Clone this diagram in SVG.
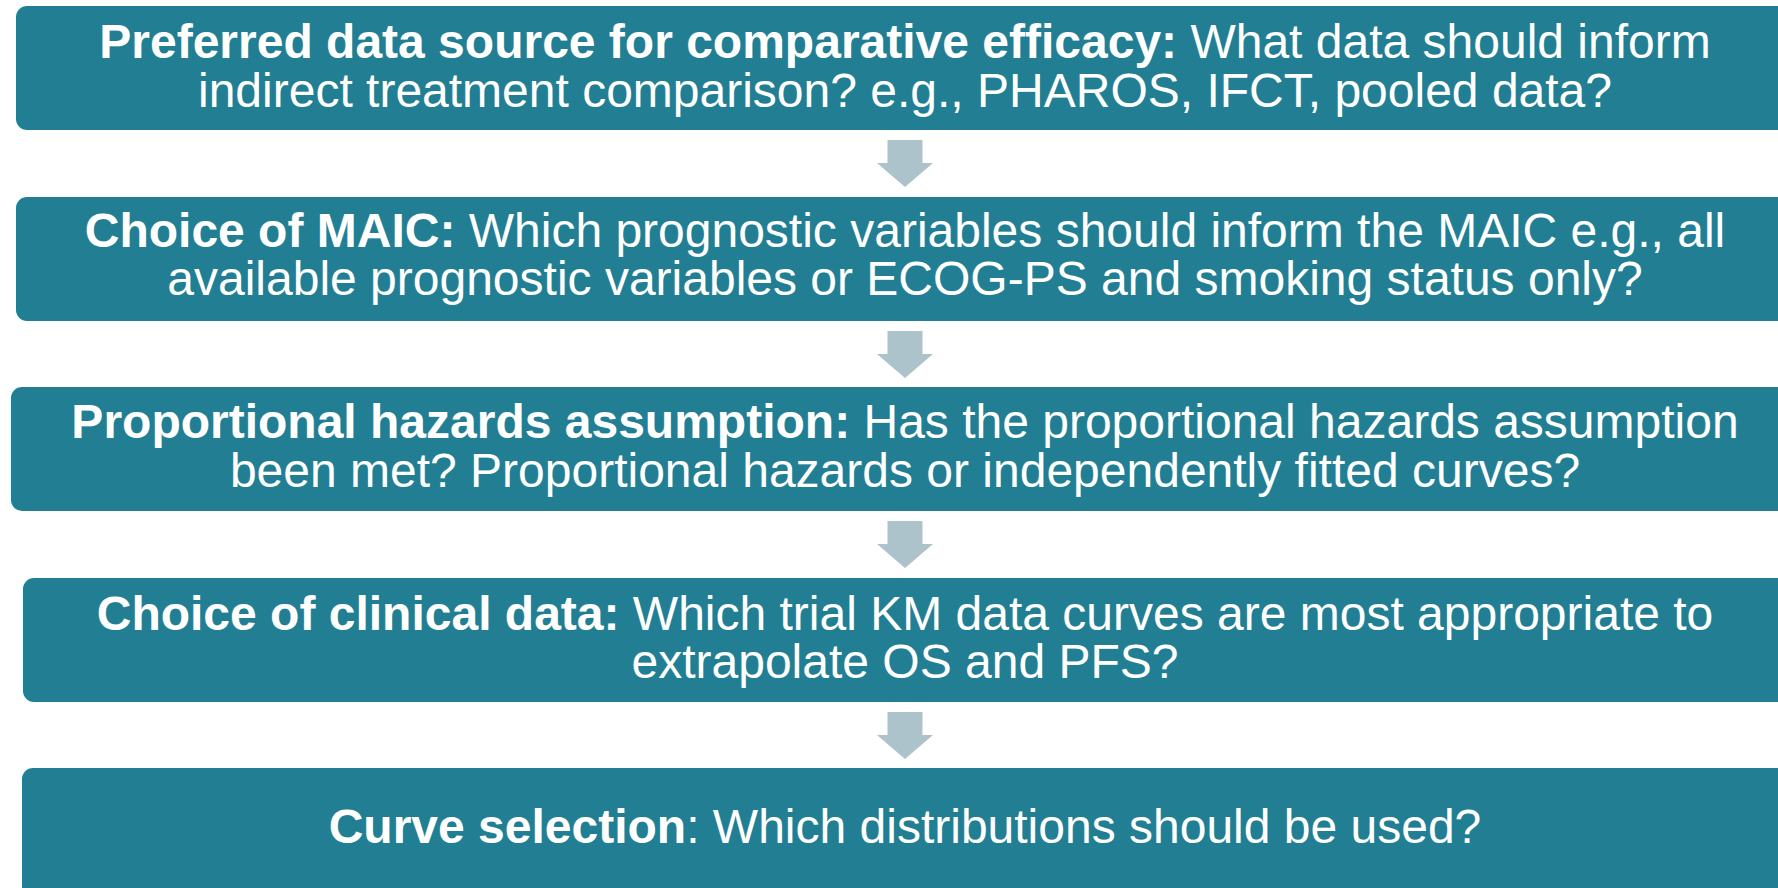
<svg xmlns="http://www.w3.org/2000/svg" width="1778" height="888" viewBox="0 0 1778 888">
  <style>
    .box { fill: #227f93; }
    .txt { font-family: "Liberation Sans", Arial, sans-serif; font-size: 48px; fill: #ffffff; text-anchor: middle; }
    .b { font-weight: bold; }
    .arrow { fill: #adc3cb; }
  </style>
  <defs>
    <!-- block arrow pointing down, centred on x=0, top at y=0 -->
    <path id="down" d="M-17.5 0 H17.5 V23 H28 L0 47 L-28 23 H-17.5 Z"/>
  </defs>
  <rect width="1778" height="888" fill="#ffffff"/>

  <g id="connectors" class="arrow">
    <use href="#down" x="905" y="140"/>
    <use href="#down" x="905" y="331"/>
    <use href="#down" x="905" y="521"/>
    <use href="#down" x="905" y="712"/>
  </g>

  <g id="node-data-source">
    <rect class="box" x="16" y="6" width="1780" height="124" rx="11"/>
    <text class="txt" x="905" y="58"><tspan class="b">Preferred data source for comparative efficacy:</tspan> What data should inform</text>
    <text class="txt" x="905" y="107">indirect treatment comparison? e.g., PHAROS, IFCT, pooled data?</text>
  </g>

  <g id="node-maic">
    <rect class="box" x="16" y="197" width="1780" height="124" rx="11"/>
    <text class="txt" x="905" y="247"><tspan class="b">Choice of MAIC:</tspan> Which prognostic variables should inform the MAIC e.g., all</text>
    <text class="txt" x="905" y="295">available prognostic variables or ECOG-PS and smoking status only?</text>
  </g>

  <g id="node-ph">
    <rect class="box" x="11" y="387" width="1785" height="124" rx="11"/>
    <text class="txt" x="905" y="438"><tspan class="b">Proportional hazards assumption:</tspan> Has the proportional hazards assumption</text>
    <text class="txt" x="905" y="487">been met? Proportional hazards or independently fitted curves?</text>
  </g>

  <g id="node-clinical">
    <rect class="box" x="23" y="578" width="1773" height="124" rx="11"/>
    <text class="txt" x="905" y="630"><tspan class="b">Choice of clinical data:</tspan> Which trial KM data curves are most appropriate to</text>
    <text class="txt" x="905" y="678">extrapolate OS and PFS?</text>
  </g>

  <g id="node-curve">
    <rect class="box" x="22" y="768" width="1774" height="140" rx="11"/>
    <text class="txt" x="905" y="843"><tspan class="b">Curve selection</tspan>: Which distributions should be used?</text>
  </g>
</svg>
